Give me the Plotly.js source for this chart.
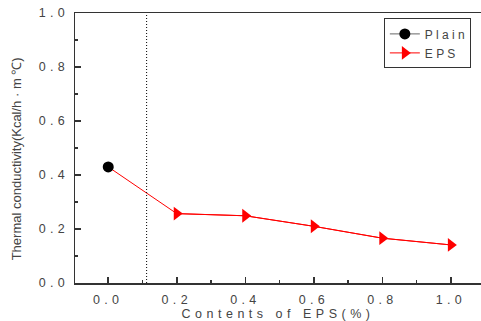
<!DOCTYPE html>
<html>
<head>
<meta charset="utf-8">
<script src="https://cdn.plot.ly/plotly-3.0.1.min.js"></script>
<style>
html,body{margin:0;padding:0;background:#fff;}
#chart{width:481px;height:321px;}
/* wide tracking on tick labels and x title */
#chart .xtick text, #chart .ytick text { letter-spacing: 4.3px; }
#chart text.xtitle { letter-spacing: 4.5px; }
</style>
</head>
<body>
<div id="chart"></div>
<script>
// EPS content (%) and thermal conductivity readings
const plainX = [0.0];
const plainY = [0.43];
const epsX = [0.0, 0.2, 0.4, 0.6, 0.8, 1.0];
const epsY = [0.43, 0.257, 0.249, 0.21, 0.166, 0.141];
const xTickVals = [0.0, 0.2, 0.4, 0.6, 0.8, 1.0];
const xTickText = ['0.0', '0.2', '0.4', '0.6', '0.8', '1.0'];
const yTickVals = [0.0, 0.2, 0.4, 0.6, 0.8, 1.0];
const yTickText = ['0.0', '0.2', '0.4', '0.6', '0.8', '1.0'];
const markerLineX = 0.112;

const txt = '#444';
const fam = 'Liberation Sans, Arial, sans-serif';

const traces = [
  // full EPS curve, starting from the shared 0 % point
  {
    x: epsX, y: epsY, mode: 'lines', showlegend: false, hoverinfo: 'skip',
    line: {color: '#ff0000', width: 1}
  },
  // EPS markers for the dosed mixes (0 % is covered by the plain marker)
  {
    x: epsX.slice(1), y: epsY.slice(1), name: 'E P S', mode: 'lines+markers',
    line: {color: '#ff0000', width: 1},
    marker: {symbol: 'triangle-right', size: 12, color: '#ff0000'}
  },
  {
    x: plainX, y: plainY, name: 'P l a i n', mode: 'lines+markers',
    line: {color: '#666', width: 1},
    marker: {symbol: 'circle', size: 11, color: '#000'}
  }
];

const layout = {
  width: 481, height: 321,
  margin: {l: 75, r: 0, t: 13, b: 38, autoexpand: false},
  paper_bgcolor: '#fff', plot_bgcolor: '#fff',
  font: {family: fam, size: 12.5, color: txt},
  showlegend: true,
  legend: {
    x: 0.975, y: 0.98, xanchor: 'right', yanchor: 'top',
    bgcolor: '#fff', bordercolor: '#333', borderwidth: 1,
    traceorder: 'reversed',
    font: {family: fam, size: 12, color: txt},
    itemwidth: 30
  },
  xaxis: {
    range: [-0.097, 1.088],
    tickmode: 'array', tickvals: xTickVals, ticktext: xTickText,
    ticks: 'inside', ticklen: 6, tickwidth: 1.5, tickcolor: '#333',
    minor: {dtick: 0.1, ticks: 'inside', ticklen: 3, tickcolor: '#333'},
    showgrid: false, zeroline: false,
    showline: true, linecolor: '#333', linewidth: 1.5, mirror: true,
    ticklabelstandoff: 4,
    title: {text: 'Contents of EPS(%)', standoff: 6, font: {family: fam, size: 12.5, color: txt}}
  },
  yaxis: {
    range: [0, 1.0],
    tickmode: 'array', tickvals: yTickVals, ticktext: yTickText,
    ticks: 'inside', ticklen: 6, tickwidth: 1.5, tickcolor: '#333',
    minor: {dtick: 0.1, ticks: 'inside', ticklen: 3, tickcolor: '#333'},
    showgrid: false, zeroline: false,
    showline: true, linecolor: '#333', linewidth: 1.5,
    ticklabelstandoff: 2,
    title: {text: 'Thermal conductivity(Kcal/h · m ℃)\u00a0\u00a0\u00a0\u00a0\u00a0\u00a0\u200b', standoff: 27,
            font: {family: fam, size: 13, color: txt}}
  },
  shapes: [
    {type: 'line', xref: 'x', yref: 'paper', x0: markerLineX, x1: markerLineX, y0: 0, y1: 1,
     line: {color: '#000', width: 1, dash: '1px,2px'}}
  ]
};

Plotly.newPlot('chart', traces, layout, {displayModeBar: false, staticPlot: true});
</script>
</body>
</html>
